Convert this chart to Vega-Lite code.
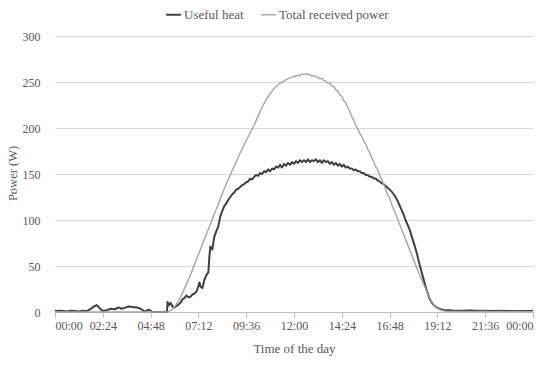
{
  "$schema": "https://vega.github.io/schema/vega-lite/v6.json",
  "width": 478,
  "height": 276,
  "autosize": {"type": "none"},
  "padding": {"left": 55, "top": 36, "right": 17, "bottom": 53},
  "background": "white",
  "config": {"font": "Liberation Serif", "view": {"stroke": null}},
  "data": {"values": [
    {"t": 0.0, "Useful heat": 1, "Total received power": 0},
    {"t": 0.2, "Useful heat": 1.5, "Total received power": 0},
    {"t": 0.4, "Useful heat": 1, "Total received power": 0},
    {"t": 0.6, "Useful heat": 0.5, "Total received power": 0},
    {"t": 0.8, "Useful heat": 1.5, "Total received power": 0},
    {"t": 1.0, "Useful heat": 1, "Total received power": 0},
    {"t": 1.2, "Useful heat": 0.5, "Total received power": 0},
    {"t": 1.4, "Useful heat": 1.5, "Total received power": 0},
    {"t": 1.6, "Useful heat": 1, "Total received power": 0},
    {"t": 1.8, "Useful heat": 3.5, "Total received power": 0},
    {"t": 1.95, "Useful heat": 6, "Total received power": 0},
    {"t": 2.1, "Useful heat": 7.5, "Total received power": 0},
    {"t": 2.25, "Useful heat": 4, "Total received power": 0},
    {"t": 2.4, "Useful heat": 1, "Total received power": 0},
    {"t": 2.6, "Useful heat": 2, "Total received power": 0},
    {"t": 2.8, "Useful heat": 3.5, "Total received power": 0},
    {"t": 3.0, "Useful heat": 3, "Total received power": 0},
    {"t": 3.2, "Useful heat": 5, "Total received power": 0},
    {"t": 3.35, "Useful heat": 3.5, "Total received power": 0},
    {"t": 3.5, "Useful heat": 4.5, "Total received power": 0},
    {"t": 3.7, "Useful heat": 6, "Total received power": 0},
    {"t": 3.9, "Useful heat": 5.5, "Total received power": 0},
    {"t": 4.1, "Useful heat": 5, "Total received power": 0},
    {"t": 4.3, "Useful heat": 3.5, "Total received power": 0},
    {"t": 4.5, "Useful heat": 0.5, "Total received power": 0},
    {"t": 4.7, "Useful heat": 2.5, "Total received power": 0},
    {"t": 4.9, "Useful heat": 0, "Total received power": 0},
    {"t": 5.1, "Useful heat": 0, "Total received power": 0},
    {"t": 5.3, "Useful heat": 0, "Total received power": 0},
    {"t": 5.5, "Useful heat": 0, "Total received power": 0},
    {"t": 5.62, "Useful heat": 0, "Total received power": 0},
    {"t": 5.65, "Useful heat": 11, "Total received power": 0},
    {"t": 5.7, "Useful heat": 7, "Total received power": 0.3},
    {"t": 5.8, "Useful heat": 10, "Total received power": 1.5},
    {"t": 5.9, "Useful heat": 6, "Total received power": 3},
    {"t": 6.0, "Useful heat": 5, "Total received power": 5.5},
    {"t": 6.1, "Useful heat": 6.5, "Total received power": 8.5},
    {"t": 6.2, "Useful heat": 8, "Total received power": 12},
    {"t": 6.3, "Useful heat": 10, "Total received power": 16},
    {"t": 6.4, "Useful heat": 14, "Total received power": 20.5},
    {"t": 6.5, "Useful heat": 15, "Total received power": 25.5},
    {"t": 6.6, "Useful heat": 18, "Total received power": 30.5},
    {"t": 6.7, "Useful heat": 16, "Total received power": 35.5},
    {"t": 6.8, "Useful heat": 16.5, "Total received power": 40.5},
    {"t": 6.9, "Useful heat": 19, "Total received power": 46},
    {"t": 7.0, "Useful heat": 20, "Total received power": 51.5},
    {"t": 7.1, "Useful heat": 22, "Total received power": 57},
    {"t": 7.2, "Useful heat": 28, "Total received power": 62.5},
    {"t": 7.25, "Useful heat": 32, "Total received power": 65},
    {"t": 7.3, "Useful heat": 28, "Total received power": 68},
    {"t": 7.4, "Useful heat": 26, "Total received power": 73.5},
    {"t": 7.5, "Useful heat": 35, "Total received power": 79},
    {"t": 7.6, "Useful heat": 40, "Total received power": 84.5},
    {"t": 7.7, "Useful heat": 43, "Total received power": 90},
    {"t": 7.75, "Useful heat": 60, "Total received power": 92.5},
    {"t": 7.8, "Useful heat": 71, "Total received power": 95.5},
    {"t": 7.9, "Useful heat": 68, "Total received power": 101},
    {"t": 8.0, "Useful heat": 82, "Total received power": 106.5},
    {"t": 8.1, "Useful heat": 88, "Total received power": 112},
    {"t": 8.2, "Useful heat": 93, "Total received power": 117.5},
    {"t": 8.3, "Useful heat": 104, "Total received power": 123},
    {"t": 8.4, "Useful heat": 110, "Total received power": 128.5},
    {"t": 8.5, "Useful heat": 115, "Total received power": 134},
    {"t": 8.6, "Useful heat": 118, "Total received power": 139},
    {"t": 8.7, "Useful heat": 122, "Total received power": 144},
    {"t": 8.8, "Useful heat": 125, "Total received power": 149},
    {"t": 8.9, "Useful heat": 128, "Total received power": 154},
    {"t": 9.0, "Useful heat": 130, "Total received power": 158.5},
    {"t": 9.1, "Useful heat": 133, "Total received power": 163.5},
    {"t": 9.2, "Useful heat": 134, "Total received power": 168},
    {"t": 9.3, "Useful heat": 136, "Total received power": 173},
    {"t": 9.4, "Useful heat": 138, "Total received power": 177.5},
    {"t": 9.5, "Useful heat": 139, "Total received power": 182},
    {"t": 9.6, "Useful heat": 141, "Total received power": 186.5},
    {"t": 9.7, "Useful heat": 142, "Total received power": 190.5},
    {"t": 9.8, "Useful heat": 145, "Total received power": 195},
    {"t": 9.9, "Useful heat": 144, "Total received power": 199},
    {"t": 10.0, "Useful heat": 147, "Total received power": 203},
    {"t": 10.1, "Useful heat": 149, "Total received power": 208},
    {"t": 10.2, "Useful heat": 148, "Total received power": 213},
    {"t": 10.3, "Useful heat": 151, "Total received power": 218},
    {"t": 10.4, "Useful heat": 150, "Total received power": 222.5},
    {"t": 10.5, "Useful heat": 153, "Total received power": 227},
    {"t": 10.6, "Useful heat": 152, "Total received power": 230.5},
    {"t": 10.7, "Useful heat": 155, "Total received power": 234},
    {"t": 10.8, "Useful heat": 153, "Total received power": 237},
    {"t": 10.9, "Useful heat": 156, "Total received power": 240},
    {"t": 11.0, "Useful heat": 155, "Total received power": 243},
    {"t": 11.1, "Useful heat": 158, "Total received power": 245},
    {"t": 11.2, "Useful heat": 157, "Total received power": 247},
    {"t": 11.3, "Useful heat": 160, "Total received power": 248.5},
    {"t": 11.4, "Useful heat": 157, "Total received power": 250},
    {"t": 11.5, "Useful heat": 161, "Total received power": 251},
    {"t": 11.6, "Useful heat": 159, "Total received power": 252.5},
    {"t": 11.7, "Useful heat": 162, "Total received power": 253.5},
    {"t": 11.8, "Useful heat": 160, "Total received power": 254.5},
    {"t": 11.9, "Useful heat": 163, "Total received power": 255},
    {"t": 12.0, "Useful heat": 161, "Total received power": 256},
    {"t": 12.1, "Useful heat": 164, "Total received power": 256.5},
    {"t": 12.2, "Useful heat": 162, "Total received power": 257.5},
    {"t": 12.3, "Useful heat": 165, "Total received power": 257},
    {"t": 12.4, "Useful heat": 163, "Total received power": 258.5},
    {"t": 12.5, "Useful heat": 165, "Total received power": 258},
    {"t": 12.6, "Useful heat": 163, "Total received power": 259},
    {"t": 12.7, "Useful heat": 166, "Total received power": 258},
    {"t": 12.8, "Useful heat": 163, "Total received power": 258},
    {"t": 12.9, "Useful heat": 165, "Total received power": 256.5},
    {"t": 13.0, "Useful heat": 164, "Total received power": 257},
    {"t": 13.1, "Useful heat": 166, "Total received power": 255.5},
    {"t": 13.2, "Useful heat": 163, "Total received power": 255},
    {"t": 13.3, "Useful heat": 165, "Total received power": 253.5},
    {"t": 13.4, "Useful heat": 162, "Total received power": 254},
    {"t": 13.5, "Useful heat": 165, "Total received power": 251.5},
    {"t": 13.6, "Useful heat": 163, "Total received power": 251},
    {"t": 13.7, "Useful heat": 164, "Total received power": 248.5},
    {"t": 13.8, "Useful heat": 161, "Total received power": 249},
    {"t": 13.9, "Useful heat": 163, "Total received power": 245.5},
    {"t": 14.0, "Useful heat": 160, "Total received power": 245},
    {"t": 14.1, "Useful heat": 162, "Total received power": 241.5},
    {"t": 14.2, "Useful heat": 159, "Total received power": 240},
    {"t": 14.3, "Useful heat": 161, "Total received power": 236},
    {"t": 14.4, "Useful heat": 158, "Total received power": 234.5},
    {"t": 14.5, "Useful heat": 160, "Total received power": 229.5},
    {"t": 14.6, "Useful heat": 157, "Total received power": 227.5},
    {"t": 14.7, "Useful heat": 158, "Total received power": 222},
    {"t": 14.8, "Useful heat": 156, "Total received power": 218.5},
    {"t": 14.9, "Useful heat": 156, "Total received power": 212.5},
    {"t": 15.0, "Useful heat": 154, "Total received power": 208.5},
    {"t": 15.1, "Useful heat": 155, "Total received power": 202.5},
    {"t": 15.2, "Useful heat": 153, "Total received power": 199.5},
    {"t": 15.3, "Useful heat": 153, "Total received power": 194.5},
    {"t": 15.4, "Useful heat": 151, "Total received power": 191},
    {"t": 15.5, "Useful heat": 151, "Total received power": 186},
    {"t": 15.6, "Useful heat": 149, "Total received power": 182.5},
    {"t": 15.7, "Useful heat": 149, "Total received power": 177},
    {"t": 15.8, "Useful heat": 147, "Total received power": 173.5},
    {"t": 15.9, "Useful heat": 147, "Total received power": 167.5},
    {"t": 16.0, "Useful heat": 145, "Total received power": 164},
    {"t": 16.1, "Useful heat": 145, "Total received power": 158},
    {"t": 16.2, "Useful heat": 143, "Total received power": 154.5},
    {"t": 16.3, "Useful heat": 142, "Total received power": 148.5},
    {"t": 16.4, "Useful heat": 140, "Total received power": 144.5},
    {"t": 16.5, "Useful heat": 139, "Total received power": 139},
    {"t": 16.6, "Useful heat": 137, "Total received power": 134},
    {"t": 16.7, "Useful heat": 135, "Total received power": 127},
    {"t": 16.8, "Useful heat": 133, "Total received power": 124},
    {"t": 16.9, "Useful heat": 131, "Total received power": 117.5},
    {"t": 17.0, "Useful heat": 128, "Total received power": 112},
    {"t": 17.1, "Useful heat": 125, "Total received power": 106.5},
    {"t": 17.2, "Useful heat": 121, "Total received power": 101},
    {"t": 17.3, "Useful heat": 116, "Total received power": 95.5},
    {"t": 17.4, "Useful heat": 111, "Total received power": 90},
    {"t": 17.5, "Useful heat": 106, "Total received power": 84.5},
    {"t": 17.6, "Useful heat": 100, "Total received power": 79},
    {"t": 17.7, "Useful heat": 95, "Total received power": 73.5},
    {"t": 17.8, "Useful heat": 90, "Total received power": 68},
    {"t": 17.9, "Useful heat": 83, "Total received power": 62.5},
    {"t": 18.0, "Useful heat": 76, "Total received power": 57},
    {"t": 18.1, "Useful heat": 69, "Total received power": 51.5},
    {"t": 18.2, "Useful heat": 61, "Total received power": 46},
    {"t": 18.3, "Useful heat": 52, "Total received power": 40.5},
    {"t": 18.4, "Useful heat": 44, "Total received power": 35.5},
    {"t": 18.5, "Useful heat": 36, "Total received power": 30.5},
    {"t": 18.6, "Useful heat": 28, "Total received power": 25.5},
    {"t": 18.7, "Useful heat": 21, "Total received power": 20.5},
    {"t": 18.8, "Useful heat": 15, "Total received power": 16},
    {"t": 18.9, "Useful heat": 11, "Total received power": 12},
    {"t": 19.0, "Useful heat": 8, "Total received power": 8.5},
    {"t": 19.1, "Useful heat": 6, "Total received power": 6},
    {"t": 19.2, "Useful heat": 4.5, "Total received power": 4},
    {"t": 19.3, "Useful heat": 3.5, "Total received power": 2.8},
    {"t": 19.4, "Useful heat": 2.8, "Total received power": 1.8},
    {"t": 19.5, "Useful heat": 2.3, "Total received power": 1.2},
    {"t": 19.6, "Useful heat": 2, "Total received power": 0.9},
    {"t": 19.8, "Useful heat": 1.8, "Total received power": 0.6},
    {"t": 20.0, "Useful heat": 1.6, "Total received power": 0.5},
    {"t": 20.4, "Useful heat": 1.4, "Total received power": 0.6},
    {"t": 20.8, "Useful heat": 1.5, "Total received power": 0.4},
    {"t": 21.2, "Useful heat": 1.3, "Total received power": 0.5},
    {"t": 21.6, "Useful heat": 1.4, "Total received power": 0.6},
    {"t": 22.0, "Useful heat": 1.2, "Total received power": 0.4},
    {"t": 22.4, "Useful heat": 1.3, "Total received power": 0.5},
    {"t": 22.8, "Useful heat": 1.1, "Total received power": 0.4},
    {"t": 23.2, "Useful heat": 1.2, "Total received power": 0.5},
    {"t": 23.6, "Useful heat": 1.0, "Total received power": 0.4},
    {"t": 24.0, "Useful heat": 1.0, "Total received power": 0.4}
  ]},
  "transform": [
    {"fold": ["Useful heat", "Total received power"], "as": ["series", "value"]}
  ],
  "mark": {"type": "line", "strokeJoin": "round"},
  "encoding": {
    "x": {
      "field": "t",
      "type": "quantitative",
      "scale": {"domain": [0, 24], "nice": false, "zero": false},
      "axis": {
        "values": [0, 2.4, 4.8, 7.2, 9.6, 12, 14.4, 16.8, 19.2, 21.6, 24],
        "labelExpr": "pad(toString(floor(datum.value + 0.001) % 24), 2, '0', 'left') + ':' + pad(toString(round((datum.value - floor(datum.value + 0.001)) * 60)), 2, '0', 'left')",
        "title": "Time of the day",
        "grid": false,
        "domainColor": "#bfbfbf",
        "tickColor": "#bfbfbf",
        "tickSize": 5,
        "labelFontSize": 12,
        "labelColor": "#595959",
        "labelPadding": 3,
        "titleFontSize": 13,
        "titleFontWeight": "normal",
        "titleColor": "#595959",
        "titlePadding": 11
      }
    },
    "y": {
      "field": "value",
      "type": "quantitative",
      "scale": {"domain": [0, 300], "nice": false},
      "axis": {
        "values": [0, 50, 100, 150, 200, 250, 300],
        "title": "Power (W)",
        "grid": true,
        "gridColor": "#d9d9d9",
        "domain": false,
        "ticks": false,
        "labelFontSize": 12,
        "labelColor": "#595959",
        "labelPadding": 15,
        "titleFontSize": 12.5,
        "titleFontWeight": "normal",
        "titleColor": "#595959",
        "titleX": -43,
        "titleY": 137,
        "titleAlign": "center",
        "titleBaseline": "middle",
        "titleAngle": -90
      }
    },
    "color": {
      "field": "series",
      "type": "nominal",
      "scale": {"domain": ["Useful heat", "Total received power"], "range": ["#404040", "#a6a6a6"]},
      "legend": {
        "title": null,
        "orient": "none",
        "direction": "horizontal",
        "legendX": 110,
        "legendY": -30,
        "symbolType": "stroke",
        "symbolSize": 220,
        "symbolStrokeWidth": 2,
        "labelFontSize": 13,
        "labelColor": "#595959",
        "labelOffset": 2,
        "columnPadding": 14
      }
    },
    "strokeWidth": {
      "field": "series",
      "type": "nominal",
      "scale": {"domain": ["Useful heat", "Total received power"], "range": [2, 1.4]},
      "legend": null
    }
  }
}
